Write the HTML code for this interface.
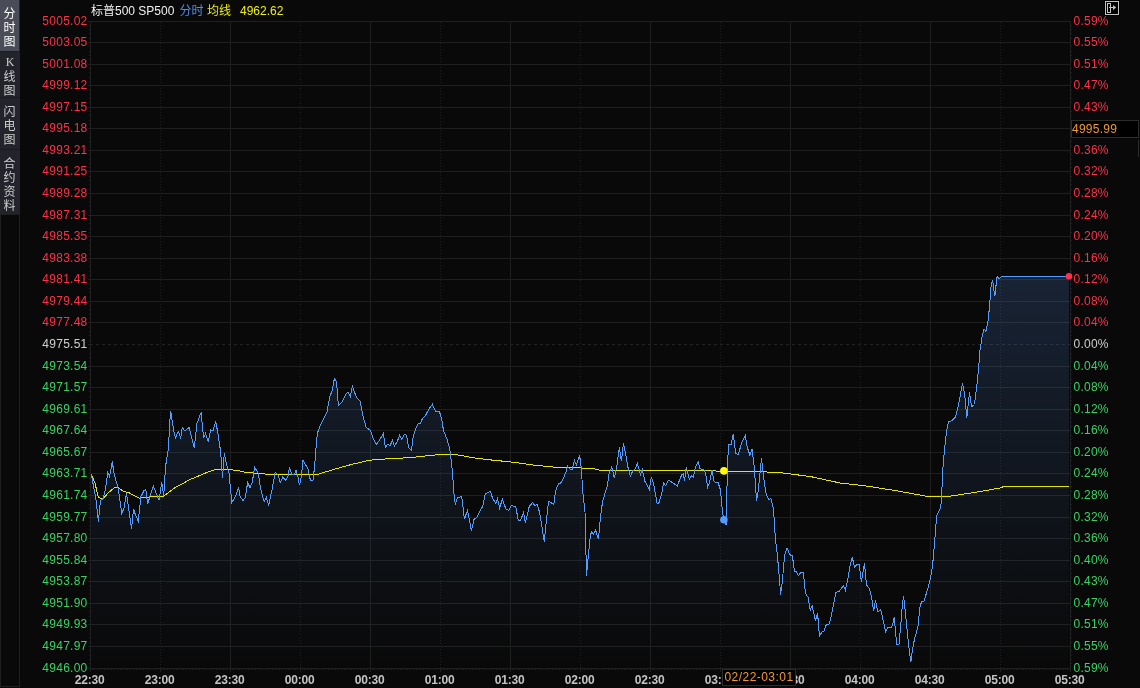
<!DOCTYPE html>
<html><head><meta charset="utf-8"><title>标普500 SP500 分时</title>
<style>
html,body{margin:0;padding:0;background:#090909;width:1140px;height:688px;overflow:hidden;}
svg{display:block;}
.l{font-family:"Liberation Sans", Arial, sans-serif;font-size:12px;letter-spacing:0.25px;}
.t{font-family:"Liberation Sans", Arial, sans-serif;font-size:12px;letter-spacing:-0.2px;font-weight:bold;}
.s{font-family:"Liberation Serif", serif;font-size:12px;}
.c{font-family:"Liberation Sans", "Noto Sans CJK SC", sans-serif;font-size:12px;}
</style></head><body>
<svg width="1140" height="688" viewBox="0 0 1140 688" shape-rendering="crispEdges">
<defs>
<linearGradient id="fillg" gradientUnits="userSpaceOnUse" x1="0" y1="276" x2="0" y2="668">
<stop offset="0" stop-color="rgb(83,138,223)" stop-opacity="0.2"/>
<stop offset="1" stop-color="rgb(83,138,223)" stop-opacity="0"/>
</linearGradient>
</defs>
<rect x="0" y="0" width="1140" height="688" fill="#090909"/>

<rect x="0" y="0" width="20" height="214" fill="#23242b"/>
<rect x="0" y="0" width="19" height="51" fill="#4a4c57"/>
<rect x="0" y="51" width="20" height="1" fill="#1a1b20"/>
<rect x="0" y="97" width="20" height="1" fill="#1a1b20"/>
<rect x="0" y="149" width="20" height="1" fill="#1a1b20"/>
<rect x="0.5" y="214.5" width="19" height="472" fill="none" stroke="#1f1f1f" stroke-width="1"/>
<text class="c" x="9.5" y="18" fill="#ffffff" text-anchor="middle">分</text><text class="c" x="9.5" y="32" fill="#ffffff" text-anchor="middle">时</text><text class="c" x="9.5" y="46" fill="#ffffff" text-anchor="middle">图</text>
<text class="s" x="10" y="66" fill="#cccccc" text-anchor="middle">K</text>
<text class="c" x="9.5" y="81" fill="#cccccc" text-anchor="middle">线</text><text class="c" x="9.5" y="95" fill="#cccccc" text-anchor="middle">图</text>
<text class="c" x="9.5" y="116" fill="#cccccc" text-anchor="middle">闪</text><text class="c" x="9.5" y="130" fill="#cccccc" text-anchor="middle">电</text><text class="c" x="9.5" y="144" fill="#cccccc" text-anchor="middle">图</text>
<text class="c" x="9.5" y="168" fill="#cccccc" text-anchor="middle">合</text><text class="c" x="9.5" y="182" fill="#cccccc" text-anchor="middle">约</text><text class="c" x="9.5" y="196" fill="#cccccc" text-anchor="middle">资</text><text class="c" x="9.5" y="210" fill="#cccccc" text-anchor="middle">料</text>
<rect x="90" y="21" width="981" height="1" fill="#1f1f1f"/>
<rect x="88" y="21" width="2" height="1" fill="#1f1f1f"/>
<rect x="89" y="25" width="1" height="1" fill="#1f1f1f"/>
<rect x="1071" y="25" width="1" height="1" fill="#1f1f1f"/>
<rect x="89" y="29" width="1" height="1" fill="#1f1f1f"/>
<rect x="1071" y="29" width="1" height="1" fill="#1f1f1f"/>
<rect x="89" y="33" width="1" height="1" fill="#1f1f1f"/>
<rect x="1071" y="33" width="1" height="1" fill="#1f1f1f"/>
<rect x="89" y="38" width="1" height="1" fill="#1f1f1f"/>
<rect x="1071" y="38" width="1" height="1" fill="#1f1f1f"/>
<rect x="90" y="42" width="981" height="1" fill="#1f1f1f"/>
<rect x="88" y="42" width="2" height="1" fill="#1f1f1f"/>
<rect x="89" y="46" width="1" height="1" fill="#1f1f1f"/>
<rect x="1071" y="46" width="1" height="1" fill="#1f1f1f"/>
<rect x="89" y="51" width="1" height="1" fill="#1f1f1f"/>
<rect x="1071" y="51" width="1" height="1" fill="#1f1f1f"/>
<rect x="89" y="55" width="1" height="1" fill="#1f1f1f"/>
<rect x="1071" y="55" width="1" height="1" fill="#1f1f1f"/>
<rect x="89" y="59" width="1" height="1" fill="#1f1f1f"/>
<rect x="1071" y="59" width="1" height="1" fill="#1f1f1f"/>
<rect x="90" y="64" width="981" height="1" fill="#1f1f1f"/>
<rect x="88" y="64" width="2" height="1" fill="#1f1f1f"/>
<rect x="89" y="68" width="1" height="1" fill="#1f1f1f"/>
<rect x="1071" y="68" width="1" height="1" fill="#1f1f1f"/>
<rect x="89" y="72" width="1" height="1" fill="#1f1f1f"/>
<rect x="1071" y="72" width="1" height="1" fill="#1f1f1f"/>
<rect x="89" y="77" width="1" height="1" fill="#1f1f1f"/>
<rect x="1071" y="77" width="1" height="1" fill="#1f1f1f"/>
<rect x="89" y="81" width="1" height="1" fill="#1f1f1f"/>
<rect x="1071" y="81" width="1" height="1" fill="#1f1f1f"/>
<rect x="90" y="85" width="981" height="1" fill="#1f1f1f"/>
<rect x="88" y="85" width="2" height="1" fill="#1f1f1f"/>
<rect x="89" y="90" width="1" height="1" fill="#1f1f1f"/>
<rect x="1071" y="90" width="1" height="1" fill="#1f1f1f"/>
<rect x="89" y="94" width="1" height="1" fill="#1f1f1f"/>
<rect x="1071" y="94" width="1" height="1" fill="#1f1f1f"/>
<rect x="89" y="98" width="1" height="1" fill="#1f1f1f"/>
<rect x="1071" y="98" width="1" height="1" fill="#1f1f1f"/>
<rect x="89" y="102" width="1" height="1" fill="#1f1f1f"/>
<rect x="1071" y="102" width="1" height="1" fill="#1f1f1f"/>
<rect x="90" y="107" width="981" height="1" fill="#1f1f1f"/>
<rect x="88" y="107" width="2" height="1" fill="#1f1f1f"/>
<rect x="89" y="111" width="1" height="1" fill="#1f1f1f"/>
<rect x="1071" y="111" width="1" height="1" fill="#1f1f1f"/>
<rect x="89" y="115" width="1" height="1" fill="#1f1f1f"/>
<rect x="1071" y="115" width="1" height="1" fill="#1f1f1f"/>
<rect x="89" y="120" width="1" height="1" fill="#1f1f1f"/>
<rect x="1071" y="120" width="1" height="1" fill="#1f1f1f"/>
<rect x="89" y="124" width="1" height="1" fill="#1f1f1f"/>
<rect x="1071" y="124" width="1" height="1" fill="#1f1f1f"/>
<rect x="90" y="128" width="981" height="1" fill="#1f1f1f"/>
<rect x="88" y="128" width="2" height="1" fill="#1f1f1f"/>
<rect x="89" y="133" width="1" height="1" fill="#1f1f1f"/>
<rect x="1071" y="133" width="1" height="1" fill="#1f1f1f"/>
<rect x="89" y="137" width="1" height="1" fill="#1f1f1f"/>
<rect x="1071" y="137" width="1" height="1" fill="#1f1f1f"/>
<rect x="89" y="141" width="1" height="1" fill="#1f1f1f"/>
<rect x="1071" y="141" width="1" height="1" fill="#1f1f1f"/>
<rect x="89" y="146" width="1" height="1" fill="#1f1f1f"/>
<rect x="1071" y="146" width="1" height="1" fill="#1f1f1f"/>
<rect x="90" y="150" width="981" height="1" fill="#1f1f1f"/>
<rect x="88" y="150" width="2" height="1" fill="#1f1f1f"/>
<rect x="89" y="154" width="1" height="1" fill="#1f1f1f"/>
<rect x="1071" y="154" width="1" height="1" fill="#1f1f1f"/>
<rect x="89" y="159" width="1" height="1" fill="#1f1f1f"/>
<rect x="1071" y="159" width="1" height="1" fill="#1f1f1f"/>
<rect x="89" y="163" width="1" height="1" fill="#1f1f1f"/>
<rect x="1071" y="163" width="1" height="1" fill="#1f1f1f"/>
<rect x="89" y="167" width="1" height="1" fill="#1f1f1f"/>
<rect x="1071" y="167" width="1" height="1" fill="#1f1f1f"/>
<rect x="90" y="171" width="981" height="1" fill="#1f1f1f"/>
<rect x="88" y="171" width="2" height="1" fill="#1f1f1f"/>
<rect x="89" y="176" width="1" height="1" fill="#1f1f1f"/>
<rect x="1071" y="176" width="1" height="1" fill="#1f1f1f"/>
<rect x="89" y="180" width="1" height="1" fill="#1f1f1f"/>
<rect x="1071" y="180" width="1" height="1" fill="#1f1f1f"/>
<rect x="89" y="184" width="1" height="1" fill="#1f1f1f"/>
<rect x="1071" y="184" width="1" height="1" fill="#1f1f1f"/>
<rect x="89" y="189" width="1" height="1" fill="#1f1f1f"/>
<rect x="1071" y="189" width="1" height="1" fill="#1f1f1f"/>
<rect x="90" y="193" width="981" height="1" fill="#1f1f1f"/>
<rect x="88" y="193" width="2" height="1" fill="#1f1f1f"/>
<rect x="89" y="197" width="1" height="1" fill="#1f1f1f"/>
<rect x="1071" y="197" width="1" height="1" fill="#1f1f1f"/>
<rect x="89" y="202" width="1" height="1" fill="#1f1f1f"/>
<rect x="1071" y="202" width="1" height="1" fill="#1f1f1f"/>
<rect x="89" y="206" width="1" height="1" fill="#1f1f1f"/>
<rect x="1071" y="206" width="1" height="1" fill="#1f1f1f"/>
<rect x="89" y="210" width="1" height="1" fill="#1f1f1f"/>
<rect x="1071" y="210" width="1" height="1" fill="#1f1f1f"/>
<rect x="90" y="215" width="981" height="1" fill="#1f1f1f"/>
<rect x="88" y="215" width="2" height="1" fill="#1f1f1f"/>
<rect x="89" y="219" width="1" height="1" fill="#1f1f1f"/>
<rect x="1071" y="219" width="1" height="1" fill="#1f1f1f"/>
<rect x="89" y="223" width="1" height="1" fill="#1f1f1f"/>
<rect x="1071" y="223" width="1" height="1" fill="#1f1f1f"/>
<rect x="89" y="228" width="1" height="1" fill="#1f1f1f"/>
<rect x="1071" y="228" width="1" height="1" fill="#1f1f1f"/>
<rect x="89" y="232" width="1" height="1" fill="#1f1f1f"/>
<rect x="1071" y="232" width="1" height="1" fill="#1f1f1f"/>
<rect x="90" y="236" width="981" height="1" fill="#1f1f1f"/>
<rect x="88" y="236" width="2" height="1" fill="#1f1f1f"/>
<rect x="89" y="240" width="1" height="1" fill="#1f1f1f"/>
<rect x="1071" y="240" width="1" height="1" fill="#1f1f1f"/>
<rect x="89" y="245" width="1" height="1" fill="#1f1f1f"/>
<rect x="1071" y="245" width="1" height="1" fill="#1f1f1f"/>
<rect x="89" y="249" width="1" height="1" fill="#1f1f1f"/>
<rect x="1071" y="249" width="1" height="1" fill="#1f1f1f"/>
<rect x="89" y="253" width="1" height="1" fill="#1f1f1f"/>
<rect x="1071" y="253" width="1" height="1" fill="#1f1f1f"/>
<rect x="90" y="258" width="981" height="1" fill="#1f1f1f"/>
<rect x="88" y="258" width="2" height="1" fill="#1f1f1f"/>
<rect x="89" y="262" width="1" height="1" fill="#1f1f1f"/>
<rect x="1071" y="262" width="1" height="1" fill="#1f1f1f"/>
<rect x="89" y="266" width="1" height="1" fill="#1f1f1f"/>
<rect x="1071" y="266" width="1" height="1" fill="#1f1f1f"/>
<rect x="89" y="271" width="1" height="1" fill="#1f1f1f"/>
<rect x="1071" y="271" width="1" height="1" fill="#1f1f1f"/>
<rect x="89" y="275" width="1" height="1" fill="#1f1f1f"/>
<rect x="1071" y="275" width="1" height="1" fill="#1f1f1f"/>
<rect x="90" y="279" width="981" height="1" fill="#1f1f1f"/>
<rect x="88" y="279" width="2" height="1" fill="#1f1f1f"/>
<rect x="89" y="284" width="1" height="1" fill="#1f1f1f"/>
<rect x="1071" y="284" width="1" height="1" fill="#1f1f1f"/>
<rect x="89" y="288" width="1" height="1" fill="#1f1f1f"/>
<rect x="1071" y="288" width="1" height="1" fill="#1f1f1f"/>
<rect x="89" y="292" width="1" height="1" fill="#1f1f1f"/>
<rect x="1071" y="292" width="1" height="1" fill="#1f1f1f"/>
<rect x="89" y="297" width="1" height="1" fill="#1f1f1f"/>
<rect x="1071" y="297" width="1" height="1" fill="#1f1f1f"/>
<rect x="90" y="301" width="981" height="1" fill="#1f1f1f"/>
<rect x="88" y="301" width="2" height="1" fill="#1f1f1f"/>
<rect x="89" y="305" width="1" height="1" fill="#1f1f1f"/>
<rect x="1071" y="305" width="1" height="1" fill="#1f1f1f"/>
<rect x="89" y="309" width="1" height="1" fill="#1f1f1f"/>
<rect x="1071" y="309" width="1" height="1" fill="#1f1f1f"/>
<rect x="89" y="314" width="1" height="1" fill="#1f1f1f"/>
<rect x="1071" y="314" width="1" height="1" fill="#1f1f1f"/>
<rect x="89" y="318" width="1" height="1" fill="#1f1f1f"/>
<rect x="1071" y="318" width="1" height="1" fill="#1f1f1f"/>
<rect x="90" y="322" width="981" height="1" fill="#1f1f1f"/>
<rect x="88" y="322" width="2" height="1" fill="#1f1f1f"/>
<rect x="89" y="327" width="1" height="1" fill="#1f1f1f"/>
<rect x="1071" y="327" width="1" height="1" fill="#1f1f1f"/>
<rect x="89" y="331" width="1" height="1" fill="#1f1f1f"/>
<rect x="1071" y="331" width="1" height="1" fill="#1f1f1f"/>
<rect x="89" y="335" width="1" height="1" fill="#1f1f1f"/>
<rect x="1071" y="335" width="1" height="1" fill="#1f1f1f"/>
<rect x="89" y="340" width="1" height="1" fill="#1f1f1f"/>
<rect x="1071" y="340" width="1" height="1" fill="#1f1f1f"/>
<line x1="90" y1="344.5" x2="1070" y2="344.5" stroke="#232323" stroke-width="1" stroke-dasharray="3 3"/>
<rect x="88" y="344" width="2" height="1" fill="#1f1f1f"/>
<rect x="89" y="348" width="1" height="1" fill="#1f1f1f"/>
<rect x="1071" y="348" width="1" height="1" fill="#1f1f1f"/>
<rect x="89" y="353" width="1" height="1" fill="#1f1f1f"/>
<rect x="1071" y="353" width="1" height="1" fill="#1f1f1f"/>
<rect x="89" y="357" width="1" height="1" fill="#1f1f1f"/>
<rect x="1071" y="357" width="1" height="1" fill="#1f1f1f"/>
<rect x="89" y="361" width="1" height="1" fill="#1f1f1f"/>
<rect x="1071" y="361" width="1" height="1" fill="#1f1f1f"/>
<rect x="90" y="366" width="981" height="1" fill="#1f1f1f"/>
<rect x="88" y="366" width="2" height="1" fill="#1f1f1f"/>
<rect x="89" y="370" width="1" height="1" fill="#1f1f1f"/>
<rect x="1071" y="370" width="1" height="1" fill="#1f1f1f"/>
<rect x="89" y="374" width="1" height="1" fill="#1f1f1f"/>
<rect x="1071" y="374" width="1" height="1" fill="#1f1f1f"/>
<rect x="89" y="379" width="1" height="1" fill="#1f1f1f"/>
<rect x="1071" y="379" width="1" height="1" fill="#1f1f1f"/>
<rect x="89" y="383" width="1" height="1" fill="#1f1f1f"/>
<rect x="1071" y="383" width="1" height="1" fill="#1f1f1f"/>
<rect x="90" y="387" width="981" height="1" fill="#1f1f1f"/>
<rect x="88" y="387" width="2" height="1" fill="#1f1f1f"/>
<rect x="89" y="391" width="1" height="1" fill="#1f1f1f"/>
<rect x="1071" y="391" width="1" height="1" fill="#1f1f1f"/>
<rect x="89" y="396" width="1" height="1" fill="#1f1f1f"/>
<rect x="1071" y="396" width="1" height="1" fill="#1f1f1f"/>
<rect x="89" y="400" width="1" height="1" fill="#1f1f1f"/>
<rect x="1071" y="400" width="1" height="1" fill="#1f1f1f"/>
<rect x="89" y="404" width="1" height="1" fill="#1f1f1f"/>
<rect x="1071" y="404" width="1" height="1" fill="#1f1f1f"/>
<rect x="90" y="409" width="981" height="1" fill="#1f1f1f"/>
<rect x="88" y="409" width="2" height="1" fill="#1f1f1f"/>
<rect x="89" y="413" width="1" height="1" fill="#1f1f1f"/>
<rect x="1071" y="413" width="1" height="1" fill="#1f1f1f"/>
<rect x="89" y="417" width="1" height="1" fill="#1f1f1f"/>
<rect x="1071" y="417" width="1" height="1" fill="#1f1f1f"/>
<rect x="89" y="422" width="1" height="1" fill="#1f1f1f"/>
<rect x="1071" y="422" width="1" height="1" fill="#1f1f1f"/>
<rect x="89" y="426" width="1" height="1" fill="#1f1f1f"/>
<rect x="1071" y="426" width="1" height="1" fill="#1f1f1f"/>
<rect x="90" y="430" width="981" height="1" fill="#1f1f1f"/>
<rect x="88" y="430" width="2" height="1" fill="#1f1f1f"/>
<rect x="89" y="435" width="1" height="1" fill="#1f1f1f"/>
<rect x="1071" y="435" width="1" height="1" fill="#1f1f1f"/>
<rect x="89" y="439" width="1" height="1" fill="#1f1f1f"/>
<rect x="1071" y="439" width="1" height="1" fill="#1f1f1f"/>
<rect x="89" y="443" width="1" height="1" fill="#1f1f1f"/>
<rect x="1071" y="443" width="1" height="1" fill="#1f1f1f"/>
<rect x="89" y="448" width="1" height="1" fill="#1f1f1f"/>
<rect x="1071" y="448" width="1" height="1" fill="#1f1f1f"/>
<rect x="90" y="452" width="981" height="1" fill="#1f1f1f"/>
<rect x="88" y="452" width="2" height="1" fill="#1f1f1f"/>
<rect x="89" y="456" width="1" height="1" fill="#1f1f1f"/>
<rect x="1071" y="456" width="1" height="1" fill="#1f1f1f"/>
<rect x="89" y="460" width="1" height="1" fill="#1f1f1f"/>
<rect x="1071" y="460" width="1" height="1" fill="#1f1f1f"/>
<rect x="89" y="465" width="1" height="1" fill="#1f1f1f"/>
<rect x="1071" y="465" width="1" height="1" fill="#1f1f1f"/>
<rect x="89" y="469" width="1" height="1" fill="#1f1f1f"/>
<rect x="1071" y="469" width="1" height="1" fill="#1f1f1f"/>
<rect x="90" y="473" width="981" height="1" fill="#1f1f1f"/>
<rect x="88" y="473" width="2" height="1" fill="#1f1f1f"/>
<rect x="89" y="478" width="1" height="1" fill="#1f1f1f"/>
<rect x="1071" y="478" width="1" height="1" fill="#1f1f1f"/>
<rect x="89" y="482" width="1" height="1" fill="#1f1f1f"/>
<rect x="1071" y="482" width="1" height="1" fill="#1f1f1f"/>
<rect x="89" y="486" width="1" height="1" fill="#1f1f1f"/>
<rect x="1071" y="486" width="1" height="1" fill="#1f1f1f"/>
<rect x="89" y="491" width="1" height="1" fill="#1f1f1f"/>
<rect x="1071" y="491" width="1" height="1" fill="#1f1f1f"/>
<rect x="90" y="495" width="981" height="1" fill="#1f1f1f"/>
<rect x="88" y="495" width="2" height="1" fill="#1f1f1f"/>
<rect x="89" y="499" width="1" height="1" fill="#1f1f1f"/>
<rect x="1071" y="499" width="1" height="1" fill="#1f1f1f"/>
<rect x="89" y="504" width="1" height="1" fill="#1f1f1f"/>
<rect x="1071" y="504" width="1" height="1" fill="#1f1f1f"/>
<rect x="89" y="508" width="1" height="1" fill="#1f1f1f"/>
<rect x="1071" y="508" width="1" height="1" fill="#1f1f1f"/>
<rect x="89" y="512" width="1" height="1" fill="#1f1f1f"/>
<rect x="1071" y="512" width="1" height="1" fill="#1f1f1f"/>
<rect x="90" y="517" width="981" height="1" fill="#1f1f1f"/>
<rect x="88" y="517" width="2" height="1" fill="#1f1f1f"/>
<rect x="89" y="521" width="1" height="1" fill="#1f1f1f"/>
<rect x="1071" y="521" width="1" height="1" fill="#1f1f1f"/>
<rect x="89" y="525" width="1" height="1" fill="#1f1f1f"/>
<rect x="1071" y="525" width="1" height="1" fill="#1f1f1f"/>
<rect x="89" y="529" width="1" height="1" fill="#1f1f1f"/>
<rect x="1071" y="529" width="1" height="1" fill="#1f1f1f"/>
<rect x="89" y="534" width="1" height="1" fill="#1f1f1f"/>
<rect x="1071" y="534" width="1" height="1" fill="#1f1f1f"/>
<rect x="90" y="538" width="981" height="1" fill="#1f1f1f"/>
<rect x="88" y="538" width="2" height="1" fill="#1f1f1f"/>
<rect x="89" y="542" width="1" height="1" fill="#1f1f1f"/>
<rect x="1071" y="542" width="1" height="1" fill="#1f1f1f"/>
<rect x="89" y="547" width="1" height="1" fill="#1f1f1f"/>
<rect x="1071" y="547" width="1" height="1" fill="#1f1f1f"/>
<rect x="89" y="551" width="1" height="1" fill="#1f1f1f"/>
<rect x="1071" y="551" width="1" height="1" fill="#1f1f1f"/>
<rect x="89" y="555" width="1" height="1" fill="#1f1f1f"/>
<rect x="1071" y="555" width="1" height="1" fill="#1f1f1f"/>
<rect x="90" y="560" width="981" height="1" fill="#1f1f1f"/>
<rect x="88" y="560" width="2" height="1" fill="#1f1f1f"/>
<rect x="89" y="564" width="1" height="1" fill="#1f1f1f"/>
<rect x="1071" y="564" width="1" height="1" fill="#1f1f1f"/>
<rect x="89" y="568" width="1" height="1" fill="#1f1f1f"/>
<rect x="1071" y="568" width="1" height="1" fill="#1f1f1f"/>
<rect x="89" y="573" width="1" height="1" fill="#1f1f1f"/>
<rect x="1071" y="573" width="1" height="1" fill="#1f1f1f"/>
<rect x="89" y="577" width="1" height="1" fill="#1f1f1f"/>
<rect x="1071" y="577" width="1" height="1" fill="#1f1f1f"/>
<rect x="90" y="581" width="981" height="1" fill="#1f1f1f"/>
<rect x="88" y="581" width="2" height="1" fill="#1f1f1f"/>
<rect x="89" y="586" width="1" height="1" fill="#1f1f1f"/>
<rect x="1071" y="586" width="1" height="1" fill="#1f1f1f"/>
<rect x="89" y="590" width="1" height="1" fill="#1f1f1f"/>
<rect x="1071" y="590" width="1" height="1" fill="#1f1f1f"/>
<rect x="89" y="594" width="1" height="1" fill="#1f1f1f"/>
<rect x="1071" y="594" width="1" height="1" fill="#1f1f1f"/>
<rect x="89" y="598" width="1" height="1" fill="#1f1f1f"/>
<rect x="1071" y="598" width="1" height="1" fill="#1f1f1f"/>
<rect x="90" y="603" width="981" height="1" fill="#1f1f1f"/>
<rect x="88" y="603" width="2" height="1" fill="#1f1f1f"/>
<rect x="89" y="607" width="1" height="1" fill="#1f1f1f"/>
<rect x="1071" y="607" width="1" height="1" fill="#1f1f1f"/>
<rect x="89" y="611" width="1" height="1" fill="#1f1f1f"/>
<rect x="1071" y="611" width="1" height="1" fill="#1f1f1f"/>
<rect x="89" y="616" width="1" height="1" fill="#1f1f1f"/>
<rect x="1071" y="616" width="1" height="1" fill="#1f1f1f"/>
<rect x="89" y="620" width="1" height="1" fill="#1f1f1f"/>
<rect x="1071" y="620" width="1" height="1" fill="#1f1f1f"/>
<rect x="90" y="624" width="981" height="1" fill="#1f1f1f"/>
<rect x="88" y="624" width="2" height="1" fill="#1f1f1f"/>
<rect x="89" y="629" width="1" height="1" fill="#1f1f1f"/>
<rect x="1071" y="629" width="1" height="1" fill="#1f1f1f"/>
<rect x="89" y="633" width="1" height="1" fill="#1f1f1f"/>
<rect x="1071" y="633" width="1" height="1" fill="#1f1f1f"/>
<rect x="89" y="637" width="1" height="1" fill="#1f1f1f"/>
<rect x="1071" y="637" width="1" height="1" fill="#1f1f1f"/>
<rect x="89" y="642" width="1" height="1" fill="#1f1f1f"/>
<rect x="1071" y="642" width="1" height="1" fill="#1f1f1f"/>
<rect x="90" y="646" width="981" height="1" fill="#1f1f1f"/>
<rect x="88" y="646" width="2" height="1" fill="#1f1f1f"/>
<rect x="89" y="650" width="1" height="1" fill="#1f1f1f"/>
<rect x="1071" y="650" width="1" height="1" fill="#1f1f1f"/>
<rect x="89" y="655" width="1" height="1" fill="#1f1f1f"/>
<rect x="1071" y="655" width="1" height="1" fill="#1f1f1f"/>
<rect x="89" y="659" width="1" height="1" fill="#1f1f1f"/>
<rect x="1071" y="659" width="1" height="1" fill="#1f1f1f"/>
<rect x="89" y="663" width="1" height="1" fill="#1f1f1f"/>
<rect x="1071" y="663" width="1" height="1" fill="#1f1f1f"/>
<rect x="90" y="668" width="981" height="1" fill="#1f1f1f"/>
<rect x="88" y="668" width="2" height="1" fill="#1f1f1f"/>
<rect x="90" y="21" width="1" height="648" fill="#1f1f1f"/>
<rect x="90" y="669" width="1" height="3" fill="#1f1f1f"/>
<rect x="92" y="669" width="1" height="1" fill="#222"/>
<rect x="94" y="669" width="1" height="1" fill="#222"/>
<rect x="97" y="669" width="1" height="1" fill="#222"/>
<rect x="99" y="669" width="1" height="1" fill="#222"/>
<rect x="101" y="669" width="1" height="1" fill="#222"/>
<rect x="104" y="669" width="1" height="1" fill="#222"/>
<rect x="106" y="669" width="1" height="1" fill="#222"/>
<rect x="108" y="669" width="1" height="1" fill="#222"/>
<rect x="111" y="669" width="1" height="1" fill="#222"/>
<rect x="113" y="669" width="1" height="1" fill="#222"/>
<rect x="115" y="669" width="1" height="1" fill="#222"/>
<rect x="118" y="669" width="1" height="1" fill="#222"/>
<rect x="120" y="669" width="1" height="1" fill="#222"/>
<rect x="122" y="669" width="1" height="1" fill="#222"/>
<rect x="125" y="669" width="1" height="1" fill="#222"/>
<rect x="127" y="669" width="1" height="1" fill="#222"/>
<rect x="129" y="669" width="1" height="1" fill="#222"/>
<rect x="132" y="669" width="1" height="1" fill="#222"/>
<rect x="134" y="669" width="1" height="1" fill="#222"/>
<rect x="136" y="669" width="1" height="1" fill="#222"/>
<rect x="139" y="669" width="1" height="1" fill="#222"/>
<rect x="141" y="669" width="1" height="1" fill="#222"/>
<rect x="143" y="669" width="1" height="1" fill="#222"/>
<rect x="146" y="669" width="1" height="1" fill="#222"/>
<rect x="148" y="669" width="1" height="1" fill="#222"/>
<rect x="150" y="669" width="1" height="1" fill="#222"/>
<rect x="153" y="669" width="1" height="1" fill="#222"/>
<rect x="155" y="669" width="1" height="1" fill="#222"/>
<rect x="157" y="669" width="1" height="1" fill="#222"/>
<line x1="160.5" y1="22" x2="160.5" y2="668" stroke="#1f1f1f" stroke-width="1" stroke-dasharray="1 2"/>
<rect x="160" y="669" width="1" height="3" fill="#1f1f1f"/>
<rect x="162" y="669" width="1" height="1" fill="#222"/>
<rect x="164" y="669" width="1" height="1" fill="#222"/>
<rect x="167" y="669" width="1" height="1" fill="#222"/>
<rect x="169" y="669" width="1" height="1" fill="#222"/>
<rect x="171" y="669" width="1" height="1" fill="#222"/>
<rect x="174" y="669" width="1" height="1" fill="#222"/>
<rect x="176" y="669" width="1" height="1" fill="#222"/>
<rect x="178" y="669" width="1" height="1" fill="#222"/>
<rect x="181" y="669" width="1" height="1" fill="#222"/>
<rect x="183" y="669" width="1" height="1" fill="#222"/>
<rect x="185" y="669" width="1" height="1" fill="#222"/>
<rect x="188" y="669" width="1" height="1" fill="#222"/>
<rect x="190" y="669" width="1" height="1" fill="#222"/>
<rect x="192" y="669" width="1" height="1" fill="#222"/>
<rect x="195" y="669" width="1" height="1" fill="#222"/>
<rect x="197" y="669" width="1" height="1" fill="#222"/>
<rect x="199" y="669" width="1" height="1" fill="#222"/>
<rect x="202" y="669" width="1" height="1" fill="#222"/>
<rect x="204" y="669" width="1" height="1" fill="#222"/>
<rect x="206" y="669" width="1" height="1" fill="#222"/>
<rect x="209" y="669" width="1" height="1" fill="#222"/>
<rect x="211" y="669" width="1" height="1" fill="#222"/>
<rect x="213" y="669" width="1" height="1" fill="#222"/>
<rect x="216" y="669" width="1" height="1" fill="#222"/>
<rect x="218" y="669" width="1" height="1" fill="#222"/>
<rect x="220" y="669" width="1" height="1" fill="#222"/>
<rect x="223" y="669" width="1" height="1" fill="#222"/>
<rect x="225" y="669" width="1" height="1" fill="#222"/>
<rect x="227" y="669" width="1" height="1" fill="#222"/>
<rect x="230" y="21" width="1" height="648" fill="#1f1f1f"/>
<rect x="230" y="669" width="1" height="3" fill="#1f1f1f"/>
<rect x="232" y="669" width="1" height="1" fill="#222"/>
<rect x="234" y="669" width="1" height="1" fill="#222"/>
<rect x="237" y="669" width="1" height="1" fill="#222"/>
<rect x="239" y="669" width="1" height="1" fill="#222"/>
<rect x="241" y="669" width="1" height="1" fill="#222"/>
<rect x="244" y="669" width="1" height="1" fill="#222"/>
<rect x="246" y="669" width="1" height="1" fill="#222"/>
<rect x="248" y="669" width="1" height="1" fill="#222"/>
<rect x="251" y="669" width="1" height="1" fill="#222"/>
<rect x="253" y="669" width="1" height="1" fill="#222"/>
<rect x="255" y="669" width="1" height="1" fill="#222"/>
<rect x="258" y="669" width="1" height="1" fill="#222"/>
<rect x="260" y="669" width="1" height="1" fill="#222"/>
<rect x="262" y="669" width="1" height="1" fill="#222"/>
<rect x="265" y="669" width="1" height="1" fill="#222"/>
<rect x="267" y="669" width="1" height="1" fill="#222"/>
<rect x="269" y="669" width="1" height="1" fill="#222"/>
<rect x="272" y="669" width="1" height="1" fill="#222"/>
<rect x="274" y="669" width="1" height="1" fill="#222"/>
<rect x="276" y="669" width="1" height="1" fill="#222"/>
<rect x="279" y="669" width="1" height="1" fill="#222"/>
<rect x="281" y="669" width="1" height="1" fill="#222"/>
<rect x="283" y="669" width="1" height="1" fill="#222"/>
<rect x="286" y="669" width="1" height="1" fill="#222"/>
<rect x="288" y="669" width="1" height="1" fill="#222"/>
<rect x="290" y="669" width="1" height="1" fill="#222"/>
<rect x="293" y="669" width="1" height="1" fill="#222"/>
<rect x="295" y="669" width="1" height="1" fill="#222"/>
<rect x="297" y="669" width="1" height="1" fill="#222"/>
<line x1="300.5" y1="22" x2="300.5" y2="668" stroke="#1f1f1f" stroke-width="1" stroke-dasharray="1 2"/>
<rect x="300" y="669" width="1" height="3" fill="#1f1f1f"/>
<rect x="302" y="669" width="1" height="1" fill="#222"/>
<rect x="304" y="669" width="1" height="1" fill="#222"/>
<rect x="307" y="669" width="1" height="1" fill="#222"/>
<rect x="309" y="669" width="1" height="1" fill="#222"/>
<rect x="311" y="669" width="1" height="1" fill="#222"/>
<rect x="314" y="669" width="1" height="1" fill="#222"/>
<rect x="316" y="669" width="1" height="1" fill="#222"/>
<rect x="318" y="669" width="1" height="1" fill="#222"/>
<rect x="321" y="669" width="1" height="1" fill="#222"/>
<rect x="323" y="669" width="1" height="1" fill="#222"/>
<rect x="325" y="669" width="1" height="1" fill="#222"/>
<rect x="328" y="669" width="1" height="1" fill="#222"/>
<rect x="330" y="669" width="1" height="1" fill="#222"/>
<rect x="332" y="669" width="1" height="1" fill="#222"/>
<rect x="335" y="669" width="1" height="1" fill="#222"/>
<rect x="337" y="669" width="1" height="1" fill="#222"/>
<rect x="339" y="669" width="1" height="1" fill="#222"/>
<rect x="342" y="669" width="1" height="1" fill="#222"/>
<rect x="344" y="669" width="1" height="1" fill="#222"/>
<rect x="346" y="669" width="1" height="1" fill="#222"/>
<rect x="349" y="669" width="1" height="1" fill="#222"/>
<rect x="351" y="669" width="1" height="1" fill="#222"/>
<rect x="353" y="669" width="1" height="1" fill="#222"/>
<rect x="356" y="669" width="1" height="1" fill="#222"/>
<rect x="358" y="669" width="1" height="1" fill="#222"/>
<rect x="360" y="669" width="1" height="1" fill="#222"/>
<rect x="363" y="669" width="1" height="1" fill="#222"/>
<rect x="365" y="669" width="1" height="1" fill="#222"/>
<rect x="367" y="669" width="1" height="1" fill="#222"/>
<rect x="370" y="21" width="1" height="648" fill="#1f1f1f"/>
<rect x="370" y="669" width="1" height="3" fill="#1f1f1f"/>
<rect x="372" y="669" width="1" height="1" fill="#222"/>
<rect x="374" y="669" width="1" height="1" fill="#222"/>
<rect x="377" y="669" width="1" height="1" fill="#222"/>
<rect x="379" y="669" width="1" height="1" fill="#222"/>
<rect x="381" y="669" width="1" height="1" fill="#222"/>
<rect x="384" y="669" width="1" height="1" fill="#222"/>
<rect x="386" y="669" width="1" height="1" fill="#222"/>
<rect x="388" y="669" width="1" height="1" fill="#222"/>
<rect x="391" y="669" width="1" height="1" fill="#222"/>
<rect x="393" y="669" width="1" height="1" fill="#222"/>
<rect x="395" y="669" width="1" height="1" fill="#222"/>
<rect x="398" y="669" width="1" height="1" fill="#222"/>
<rect x="400" y="669" width="1" height="1" fill="#222"/>
<rect x="402" y="669" width="1" height="1" fill="#222"/>
<rect x="405" y="669" width="1" height="1" fill="#222"/>
<rect x="407" y="669" width="1" height="1" fill="#222"/>
<rect x="409" y="669" width="1" height="1" fill="#222"/>
<rect x="412" y="669" width="1" height="1" fill="#222"/>
<rect x="414" y="669" width="1" height="1" fill="#222"/>
<rect x="416" y="669" width="1" height="1" fill="#222"/>
<rect x="419" y="669" width="1" height="1" fill="#222"/>
<rect x="421" y="669" width="1" height="1" fill="#222"/>
<rect x="423" y="669" width="1" height="1" fill="#222"/>
<rect x="426" y="669" width="1" height="1" fill="#222"/>
<rect x="428" y="669" width="1" height="1" fill="#222"/>
<rect x="430" y="669" width="1" height="1" fill="#222"/>
<rect x="433" y="669" width="1" height="1" fill="#222"/>
<rect x="435" y="669" width="1" height="1" fill="#222"/>
<rect x="437" y="669" width="1" height="1" fill="#222"/>
<line x1="440.5" y1="22" x2="440.5" y2="668" stroke="#1f1f1f" stroke-width="1" stroke-dasharray="1 2"/>
<rect x="440" y="669" width="1" height="3" fill="#1f1f1f"/>
<rect x="442" y="669" width="1" height="1" fill="#222"/>
<rect x="444" y="669" width="1" height="1" fill="#222"/>
<rect x="447" y="669" width="1" height="1" fill="#222"/>
<rect x="449" y="669" width="1" height="1" fill="#222"/>
<rect x="451" y="669" width="1" height="1" fill="#222"/>
<rect x="454" y="669" width="1" height="1" fill="#222"/>
<rect x="456" y="669" width="1" height="1" fill="#222"/>
<rect x="458" y="669" width="1" height="1" fill="#222"/>
<rect x="461" y="669" width="1" height="1" fill="#222"/>
<rect x="463" y="669" width="1" height="1" fill="#222"/>
<rect x="465" y="669" width="1" height="1" fill="#222"/>
<rect x="468" y="669" width="1" height="1" fill="#222"/>
<rect x="470" y="669" width="1" height="1" fill="#222"/>
<rect x="472" y="669" width="1" height="1" fill="#222"/>
<rect x="475" y="669" width="1" height="1" fill="#222"/>
<rect x="477" y="669" width="1" height="1" fill="#222"/>
<rect x="479" y="669" width="1" height="1" fill="#222"/>
<rect x="482" y="669" width="1" height="1" fill="#222"/>
<rect x="484" y="669" width="1" height="1" fill="#222"/>
<rect x="486" y="669" width="1" height="1" fill="#222"/>
<rect x="489" y="669" width="1" height="1" fill="#222"/>
<rect x="491" y="669" width="1" height="1" fill="#222"/>
<rect x="493" y="669" width="1" height="1" fill="#222"/>
<rect x="496" y="669" width="1" height="1" fill="#222"/>
<rect x="498" y="669" width="1" height="1" fill="#222"/>
<rect x="500" y="669" width="1" height="1" fill="#222"/>
<rect x="503" y="669" width="1" height="1" fill="#222"/>
<rect x="505" y="669" width="1" height="1" fill="#222"/>
<rect x="507" y="669" width="1" height="1" fill="#222"/>
<rect x="510" y="21" width="1" height="648" fill="#1f1f1f"/>
<rect x="510" y="669" width="1" height="3" fill="#1f1f1f"/>
<rect x="512" y="669" width="1" height="1" fill="#222"/>
<rect x="514" y="669" width="1" height="1" fill="#222"/>
<rect x="517" y="669" width="1" height="1" fill="#222"/>
<rect x="519" y="669" width="1" height="1" fill="#222"/>
<rect x="521" y="669" width="1" height="1" fill="#222"/>
<rect x="524" y="669" width="1" height="1" fill="#222"/>
<rect x="526" y="669" width="1" height="1" fill="#222"/>
<rect x="528" y="669" width="1" height="1" fill="#222"/>
<rect x="531" y="669" width="1" height="1" fill="#222"/>
<rect x="533" y="669" width="1" height="1" fill="#222"/>
<rect x="535" y="669" width="1" height="1" fill="#222"/>
<rect x="538" y="669" width="1" height="1" fill="#222"/>
<rect x="540" y="669" width="1" height="1" fill="#222"/>
<rect x="542" y="669" width="1" height="1" fill="#222"/>
<rect x="545" y="669" width="1" height="1" fill="#222"/>
<rect x="547" y="669" width="1" height="1" fill="#222"/>
<rect x="549" y="669" width="1" height="1" fill="#222"/>
<rect x="552" y="669" width="1" height="1" fill="#222"/>
<rect x="554" y="669" width="1" height="1" fill="#222"/>
<rect x="556" y="669" width="1" height="1" fill="#222"/>
<rect x="559" y="669" width="1" height="1" fill="#222"/>
<rect x="561" y="669" width="1" height="1" fill="#222"/>
<rect x="563" y="669" width="1" height="1" fill="#222"/>
<rect x="566" y="669" width="1" height="1" fill="#222"/>
<rect x="568" y="669" width="1" height="1" fill="#222"/>
<rect x="570" y="669" width="1" height="1" fill="#222"/>
<rect x="573" y="669" width="1" height="1" fill="#222"/>
<rect x="575" y="669" width="1" height="1" fill="#222"/>
<rect x="577" y="669" width="1" height="1" fill="#222"/>
<line x1="580.5" y1="22" x2="580.5" y2="668" stroke="#1f1f1f" stroke-width="1" stroke-dasharray="1 2"/>
<rect x="580" y="669" width="1" height="3" fill="#1f1f1f"/>
<rect x="582" y="669" width="1" height="1" fill="#222"/>
<rect x="584" y="669" width="1" height="1" fill="#222"/>
<rect x="587" y="669" width="1" height="1" fill="#222"/>
<rect x="589" y="669" width="1" height="1" fill="#222"/>
<rect x="591" y="669" width="1" height="1" fill="#222"/>
<rect x="594" y="669" width="1" height="1" fill="#222"/>
<rect x="596" y="669" width="1" height="1" fill="#222"/>
<rect x="598" y="669" width="1" height="1" fill="#222"/>
<rect x="601" y="669" width="1" height="1" fill="#222"/>
<rect x="603" y="669" width="1" height="1" fill="#222"/>
<rect x="605" y="669" width="1" height="1" fill="#222"/>
<rect x="608" y="669" width="1" height="1" fill="#222"/>
<rect x="610" y="669" width="1" height="1" fill="#222"/>
<rect x="612" y="669" width="1" height="1" fill="#222"/>
<rect x="615" y="669" width="1" height="1" fill="#222"/>
<rect x="617" y="669" width="1" height="1" fill="#222"/>
<rect x="619" y="669" width="1" height="1" fill="#222"/>
<rect x="622" y="669" width="1" height="1" fill="#222"/>
<rect x="624" y="669" width="1" height="1" fill="#222"/>
<rect x="626" y="669" width="1" height="1" fill="#222"/>
<rect x="629" y="669" width="1" height="1" fill="#222"/>
<rect x="631" y="669" width="1" height="1" fill="#222"/>
<rect x="633" y="669" width="1" height="1" fill="#222"/>
<rect x="636" y="669" width="1" height="1" fill="#222"/>
<rect x="638" y="669" width="1" height="1" fill="#222"/>
<rect x="640" y="669" width="1" height="1" fill="#222"/>
<rect x="643" y="669" width="1" height="1" fill="#222"/>
<rect x="645" y="669" width="1" height="1" fill="#222"/>
<rect x="647" y="669" width="1" height="1" fill="#222"/>
<rect x="650" y="21" width="1" height="648" fill="#1f1f1f"/>
<rect x="650" y="669" width="1" height="3" fill="#1f1f1f"/>
<rect x="652" y="669" width="1" height="1" fill="#222"/>
<rect x="654" y="669" width="1" height="1" fill="#222"/>
<rect x="657" y="669" width="1" height="1" fill="#222"/>
<rect x="659" y="669" width="1" height="1" fill="#222"/>
<rect x="661" y="669" width="1" height="1" fill="#222"/>
<rect x="664" y="669" width="1" height="1" fill="#222"/>
<rect x="666" y="669" width="1" height="1" fill="#222"/>
<rect x="668" y="669" width="1" height="1" fill="#222"/>
<rect x="671" y="669" width="1" height="1" fill="#222"/>
<rect x="673" y="669" width="1" height="1" fill="#222"/>
<rect x="675" y="669" width="1" height="1" fill="#222"/>
<rect x="678" y="669" width="1" height="1" fill="#222"/>
<rect x="680" y="669" width="1" height="1" fill="#222"/>
<rect x="682" y="669" width="1" height="1" fill="#222"/>
<rect x="685" y="669" width="1" height="1" fill="#222"/>
<rect x="687" y="669" width="1" height="1" fill="#222"/>
<rect x="689" y="669" width="1" height="1" fill="#222"/>
<rect x="692" y="669" width="1" height="1" fill="#222"/>
<rect x="694" y="669" width="1" height="1" fill="#222"/>
<rect x="696" y="669" width="1" height="1" fill="#222"/>
<rect x="699" y="669" width="1" height="1" fill="#222"/>
<rect x="701" y="669" width="1" height="1" fill="#222"/>
<rect x="703" y="669" width="1" height="1" fill="#222"/>
<rect x="706" y="669" width="1" height="1" fill="#222"/>
<rect x="708" y="669" width="1" height="1" fill="#222"/>
<rect x="710" y="669" width="1" height="1" fill="#222"/>
<rect x="713" y="669" width="1" height="1" fill="#222"/>
<rect x="715" y="669" width="1" height="1" fill="#222"/>
<rect x="717" y="669" width="1" height="1" fill="#222"/>
<line x1="720.5" y1="22" x2="720.5" y2="668" stroke="#1f1f1f" stroke-width="1" stroke-dasharray="1 2"/>
<rect x="720" y="669" width="1" height="3" fill="#1f1f1f"/>
<rect x="722" y="669" width="1" height="1" fill="#222"/>
<rect x="724" y="669" width="1" height="1" fill="#222"/>
<rect x="727" y="669" width="1" height="1" fill="#222"/>
<rect x="729" y="669" width="1" height="1" fill="#222"/>
<rect x="731" y="669" width="1" height="1" fill="#222"/>
<rect x="734" y="669" width="1" height="1" fill="#222"/>
<rect x="736" y="669" width="1" height="1" fill="#222"/>
<rect x="738" y="669" width="1" height="1" fill="#222"/>
<rect x="741" y="669" width="1" height="1" fill="#222"/>
<rect x="743" y="669" width="1" height="1" fill="#222"/>
<rect x="745" y="669" width="1" height="1" fill="#222"/>
<rect x="748" y="669" width="1" height="1" fill="#222"/>
<rect x="750" y="669" width="1" height="1" fill="#222"/>
<rect x="752" y="669" width="1" height="1" fill="#222"/>
<rect x="755" y="669" width="1" height="1" fill="#222"/>
<rect x="757" y="669" width="1" height="1" fill="#222"/>
<rect x="759" y="669" width="1" height="1" fill="#222"/>
<rect x="762" y="669" width="1" height="1" fill="#222"/>
<rect x="764" y="669" width="1" height="1" fill="#222"/>
<rect x="766" y="669" width="1" height="1" fill="#222"/>
<rect x="769" y="669" width="1" height="1" fill="#222"/>
<rect x="771" y="669" width="1" height="1" fill="#222"/>
<rect x="773" y="669" width="1" height="1" fill="#222"/>
<rect x="776" y="669" width="1" height="1" fill="#222"/>
<rect x="778" y="669" width="1" height="1" fill="#222"/>
<rect x="780" y="669" width="1" height="1" fill="#222"/>
<rect x="783" y="669" width="1" height="1" fill="#222"/>
<rect x="785" y="669" width="1" height="1" fill="#222"/>
<rect x="787" y="669" width="1" height="1" fill="#222"/>
<rect x="790" y="21" width="1" height="648" fill="#1f1f1f"/>
<rect x="790" y="669" width="1" height="3" fill="#1f1f1f"/>
<rect x="792" y="669" width="1" height="1" fill="#222"/>
<rect x="794" y="669" width="1" height="1" fill="#222"/>
<rect x="797" y="669" width="1" height="1" fill="#222"/>
<rect x="799" y="669" width="1" height="1" fill="#222"/>
<rect x="801" y="669" width="1" height="1" fill="#222"/>
<rect x="804" y="669" width="1" height="1" fill="#222"/>
<rect x="806" y="669" width="1" height="1" fill="#222"/>
<rect x="808" y="669" width="1" height="1" fill="#222"/>
<rect x="811" y="669" width="1" height="1" fill="#222"/>
<rect x="813" y="669" width="1" height="1" fill="#222"/>
<rect x="815" y="669" width="1" height="1" fill="#222"/>
<rect x="818" y="669" width="1" height="1" fill="#222"/>
<rect x="820" y="669" width="1" height="1" fill="#222"/>
<rect x="822" y="669" width="1" height="1" fill="#222"/>
<rect x="825" y="669" width="1" height="1" fill="#222"/>
<rect x="827" y="669" width="1" height="1" fill="#222"/>
<rect x="829" y="669" width="1" height="1" fill="#222"/>
<rect x="832" y="669" width="1" height="1" fill="#222"/>
<rect x="834" y="669" width="1" height="1" fill="#222"/>
<rect x="836" y="669" width="1" height="1" fill="#222"/>
<rect x="839" y="669" width="1" height="1" fill="#222"/>
<rect x="841" y="669" width="1" height="1" fill="#222"/>
<rect x="843" y="669" width="1" height="1" fill="#222"/>
<rect x="846" y="669" width="1" height="1" fill="#222"/>
<rect x="848" y="669" width="1" height="1" fill="#222"/>
<rect x="850" y="669" width="1" height="1" fill="#222"/>
<rect x="853" y="669" width="1" height="1" fill="#222"/>
<rect x="855" y="669" width="1" height="1" fill="#222"/>
<rect x="857" y="669" width="1" height="1" fill="#222"/>
<line x1="860.5" y1="22" x2="860.5" y2="668" stroke="#1f1f1f" stroke-width="1" stroke-dasharray="1 2"/>
<rect x="860" y="669" width="1" height="3" fill="#1f1f1f"/>
<rect x="862" y="669" width="1" height="1" fill="#222"/>
<rect x="864" y="669" width="1" height="1" fill="#222"/>
<rect x="867" y="669" width="1" height="1" fill="#222"/>
<rect x="869" y="669" width="1" height="1" fill="#222"/>
<rect x="871" y="669" width="1" height="1" fill="#222"/>
<rect x="874" y="669" width="1" height="1" fill="#222"/>
<rect x="876" y="669" width="1" height="1" fill="#222"/>
<rect x="878" y="669" width="1" height="1" fill="#222"/>
<rect x="881" y="669" width="1" height="1" fill="#222"/>
<rect x="883" y="669" width="1" height="1" fill="#222"/>
<rect x="885" y="669" width="1" height="1" fill="#222"/>
<rect x="888" y="669" width="1" height="1" fill="#222"/>
<rect x="890" y="669" width="1" height="1" fill="#222"/>
<rect x="892" y="669" width="1" height="1" fill="#222"/>
<rect x="895" y="669" width="1" height="1" fill="#222"/>
<rect x="897" y="669" width="1" height="1" fill="#222"/>
<rect x="899" y="669" width="1" height="1" fill="#222"/>
<rect x="902" y="669" width="1" height="1" fill="#222"/>
<rect x="904" y="669" width="1" height="1" fill="#222"/>
<rect x="906" y="669" width="1" height="1" fill="#222"/>
<rect x="909" y="669" width="1" height="1" fill="#222"/>
<rect x="911" y="669" width="1" height="1" fill="#222"/>
<rect x="913" y="669" width="1" height="1" fill="#222"/>
<rect x="916" y="669" width="1" height="1" fill="#222"/>
<rect x="918" y="669" width="1" height="1" fill="#222"/>
<rect x="920" y="669" width="1" height="1" fill="#222"/>
<rect x="923" y="669" width="1" height="1" fill="#222"/>
<rect x="925" y="669" width="1" height="1" fill="#222"/>
<rect x="927" y="669" width="1" height="1" fill="#222"/>
<rect x="930" y="21" width="1" height="648" fill="#1f1f1f"/>
<rect x="930" y="669" width="1" height="3" fill="#1f1f1f"/>
<rect x="932" y="669" width="1" height="1" fill="#222"/>
<rect x="934" y="669" width="1" height="1" fill="#222"/>
<rect x="937" y="669" width="1" height="1" fill="#222"/>
<rect x="939" y="669" width="1" height="1" fill="#222"/>
<rect x="941" y="669" width="1" height="1" fill="#222"/>
<rect x="944" y="669" width="1" height="1" fill="#222"/>
<rect x="946" y="669" width="1" height="1" fill="#222"/>
<rect x="948" y="669" width="1" height="1" fill="#222"/>
<rect x="951" y="669" width="1" height="1" fill="#222"/>
<rect x="953" y="669" width="1" height="1" fill="#222"/>
<rect x="955" y="669" width="1" height="1" fill="#222"/>
<rect x="958" y="669" width="1" height="1" fill="#222"/>
<rect x="960" y="669" width="1" height="1" fill="#222"/>
<rect x="962" y="669" width="1" height="1" fill="#222"/>
<rect x="965" y="669" width="1" height="1" fill="#222"/>
<rect x="967" y="669" width="1" height="1" fill="#222"/>
<rect x="969" y="669" width="1" height="1" fill="#222"/>
<rect x="972" y="669" width="1" height="1" fill="#222"/>
<rect x="974" y="669" width="1" height="1" fill="#222"/>
<rect x="976" y="669" width="1" height="1" fill="#222"/>
<rect x="979" y="669" width="1" height="1" fill="#222"/>
<rect x="981" y="669" width="1" height="1" fill="#222"/>
<rect x="983" y="669" width="1" height="1" fill="#222"/>
<rect x="986" y="669" width="1" height="1" fill="#222"/>
<rect x="988" y="669" width="1" height="1" fill="#222"/>
<rect x="990" y="669" width="1" height="1" fill="#222"/>
<rect x="993" y="669" width="1" height="1" fill="#222"/>
<rect x="995" y="669" width="1" height="1" fill="#222"/>
<rect x="997" y="669" width="1" height="1" fill="#222"/>
<line x1="1000.5" y1="22" x2="1000.5" y2="668" stroke="#1f1f1f" stroke-width="1" stroke-dasharray="1 2"/>
<rect x="1000" y="669" width="1" height="3" fill="#1f1f1f"/>
<rect x="1002" y="669" width="1" height="1" fill="#222"/>
<rect x="1004" y="669" width="1" height="1" fill="#222"/>
<rect x="1007" y="669" width="1" height="1" fill="#222"/>
<rect x="1009" y="669" width="1" height="1" fill="#222"/>
<rect x="1011" y="669" width="1" height="1" fill="#222"/>
<rect x="1014" y="669" width="1" height="1" fill="#222"/>
<rect x="1016" y="669" width="1" height="1" fill="#222"/>
<rect x="1018" y="669" width="1" height="1" fill="#222"/>
<rect x="1021" y="669" width="1" height="1" fill="#222"/>
<rect x="1023" y="669" width="1" height="1" fill="#222"/>
<rect x="1025" y="669" width="1" height="1" fill="#222"/>
<rect x="1028" y="669" width="1" height="1" fill="#222"/>
<rect x="1030" y="669" width="1" height="1" fill="#222"/>
<rect x="1032" y="669" width="1" height="1" fill="#222"/>
<rect x="1035" y="669" width="1" height="1" fill="#222"/>
<rect x="1037" y="669" width="1" height="1" fill="#222"/>
<rect x="1039" y="669" width="1" height="1" fill="#222"/>
<rect x="1042" y="669" width="1" height="1" fill="#222"/>
<rect x="1044" y="669" width="1" height="1" fill="#222"/>
<rect x="1046" y="669" width="1" height="1" fill="#222"/>
<rect x="1049" y="669" width="1" height="1" fill="#222"/>
<rect x="1051" y="669" width="1" height="1" fill="#222"/>
<rect x="1053" y="669" width="1" height="1" fill="#222"/>
<rect x="1056" y="669" width="1" height="1" fill="#222"/>
<rect x="1058" y="669" width="1" height="1" fill="#222"/>
<rect x="1060" y="669" width="1" height="1" fill="#222"/>
<rect x="1063" y="669" width="1" height="1" fill="#222"/>
<rect x="1065" y="669" width="1" height="1" fill="#222"/>
<rect x="1067" y="669" width="1" height="1" fill="#222"/>
<rect x="1070" y="21" width="1" height="648" fill="#1f1f1f"/>
<rect x="1070" y="669" width="1" height="3" fill="#1f1f1f"/>
<polygon points="91.3,668 91.3,474.2 96.1,500.3 98.5,522.4 99.6,507.3 100.8,500.3 103.1,498.6 105.4,489.9 107.2,477.0 107.5,471.3 109.5,476.5 112.4,461.4 113.6,471.3 115.9,480.6 117.7,486.4 119.4,496.9 121.7,513.1 124.0,508.5 126.4,493.4 127.5,500.3 131.6,528.5 133.5,508.7 135.5,515.0 138.2,521.0 141.0,496.4 143.9,490.7 145.8,489.8 147.6,504.0 153.3,486.0 159.0,500.2 161.8,482.2 163.7,496.4 165.6,466.0 168.4,449.1 169.9,419.8 170.7,411.3 172.2,420.8 174.0,432.0 175.6,437.8 178.2,431.2 180.7,437.8 182.3,427.5 184.7,430.8 189.0,427.5 194.2,447.8 197.0,423.3 201.1,412.4 203.6,438.4 205.5,433.7 208.3,442.2 210.6,429.9 213.0,430.8 215.8,421.4 218.7,438.4 220.6,451.6 222.5,478.0 224.3,453.5 226.2,462.9 229.0,473.3 231.9,502.5 234.7,497.8 236.7,493.5 238.5,487.4 240.2,497.0 243.1,500.5 245.5,497.0 247.6,482.4 250.1,487.7 252.4,481.9 254.5,467.3 256.5,470.2 258.3,473.7 260.6,488.8 264.1,501.6 266.4,497.6 268.7,505.1 272.2,488.8 275.1,472.6 276.3,473.1 278.0,474.9 280.3,482.4 282.7,477.2 285.6,480.1 287.9,476.6 289.4,467.9 292.0,474.9 294.3,474.3 296.0,470.5 297.8,476.0 299.5,485.3 301.3,477.2 303.0,460.3 305.2,464.2 307.9,468.6 310.5,480.8 313.1,480.0 314.8,464.2 316.6,439.8 317.8,432.0 320.9,424.1 327.0,411.9 329.7,397.0 332.3,390.1 334.4,378.4 336.6,382.2 338.4,405.8 341.9,402.3 345.7,394.4 348.0,391.8 350.3,396.2 352.4,386.6 356.7,397.9 360.2,401.4 362.8,415.4 366.3,427.6 369.8,429.7 370.8,431.0 373.1,438.0 376.4,444.4 380.1,439.2 383.4,433.4 385.3,447.3 387.7,444.4 390.0,445.6 392.6,440.3 394.3,446.2 397.0,442.1 399.7,435.1 401.6,439.2 404.5,434.5 406.6,435.1 408.6,447.9 411.5,450.2 413.3,435.7 416.2,427.6 418.5,423.5 420.2,423.5 422.6,418.3 424.9,416.5 429.0,409.0 432.4,404.3 435.9,411.9 439.4,411.3 441.7,419.4 443.5,430.5 447.0,439.2 449.6,447.9 451.3,461.8 452.5,472.3 453.9,493.2 455.3,504.5 457.4,497.5 461.8,496.7 464.4,519.3 467.5,510.2 471.4,530.6 474.0,519.3 476.6,517.6 482.7,506.2 485.3,494.1 490.5,491.1 492.3,497.6 495.8,503.6 497.5,498.4 499.6,508.0 502.4,499.3 505.9,508.9 508.8,510.2 511.4,505.4 515.8,507.1 518.4,521.0 520.7,520.0 523.5,512.4 525.4,522.8 529.2,506.7 532.4,502.6 534.8,505.2 537.3,504.8 539.6,512.4 544.3,541.7 546.2,521.8 548.6,501.4 550.9,502.6 553.8,504.8 555.6,490.6 558.5,484.0 560.7,483.1 563.8,477.4 566.0,471.7 567.5,466.1 569.8,468.9 572.1,469.8 574.5,460.4 576.4,465.1 579.6,455.3 581.2,468.0 583.0,493.5 585.0,512.4 586.5,575.7 587.8,561.5 590.2,537.0 591.4,531.9 593.5,534.2 595.6,530.2 598.4,539.4 600.5,517.1 601.8,506.7 603.1,499.7 605.7,491.0 607.4,485.7 609.2,472.7 611.8,466.9 614.4,478.4 617.0,464.8 619.3,447.4 621.4,461.4 623.5,443.1 625.7,454.4 628.0,467.5 630.4,476.2 632.7,471.0 635.0,469.2 637.4,463.5 640.5,474.4 642.3,469.7 644.9,481.4 649.3,489.2 651.3,477.1 653.6,484.0 657.1,503.2 658.8,503.2 661.5,494.5 663.6,483.1 665.8,485.8 668.5,480.1 672.8,482.7 677.2,486.2 681.6,474.9 683.3,474.0 684.5,481.0 686.3,466.7 687.6,472.3 689.4,479.2 691.5,475.7 693.2,477.5 695.5,467.0 698.1,461.5 699.8,468.8 703.7,469.7 705.4,472.3 707.7,487.1 709.4,482.7 712.0,470.5 713.8,481.0 715.9,482.7 718.1,482.7 720.4,489.7 722.5,512.3 723.9,519.7 726.3,525.4 727.4,465.3 728.6,444.4 731.2,444.4 733.3,433.6 735.6,453.1 738.2,454.8 741.7,442.6 745.2,435.5 747.3,447.3 749.9,455.1 752.0,449.1 754.4,468.2 756.5,500.9 758.3,490.4 761.5,457.7 763.6,477.4 766.2,494.4 768.8,499.6 770.9,498.3 773.5,508.8 775.3,537.6 777.2,553.3 779.3,576.8 780.6,594.6 782.4,580.8 784.5,555.9 787.1,548.0 789.7,554.6 792.4,555.9 794.5,571.6 796.2,571.3 798.4,575.4 801.1,572.4 803.4,572.4 805.4,593.4 808.0,597.3 810.3,610.2 812.1,605.6 814.1,614.8 815.6,620.9 817.6,613.3 819.4,636.2 821.7,632.4 824.0,630.8 826.3,624.7 829.4,624.0 832.4,610.2 835.9,592.7 839.3,591.1 843.5,585.8 845.4,590.1 847.7,579.7 850.3,564.4 852.3,557.1 854.5,567.5 856.8,564.4 859.1,564.4 861.4,582.0 864.5,563.2 866.5,585.0 869.5,588.9 871.8,598.7 873.6,611.2 875.4,600.5 878.0,612.1 880.7,609.4 882.5,617.5 885.7,631.8 887.9,627.3 891.5,627.3 892.9,623.7 894.2,616.6 895.9,636.2 896.8,644.3 899.0,644.3 901.3,618.3 902.6,602.2 903.6,596.0 904.9,607.6 906.7,625.5 908.5,644.3 910.8,662.2 912.6,648.8 914.7,638.0 917.9,627.3 920.1,605.8 921.9,601.4 923.7,601.9 926.4,593.3 929.0,584.4 931.7,571.8 932.6,562.9 933.1,560.0 934.8,539.5 936.6,516.3 938.5,511.6 940.8,507.4 941.7,493.0 943.1,465.1 944.8,446.5 946.4,432.6 948.3,422.1 951.7,420.9 955.2,417.4 957.6,409.3 959.2,401.2 962.5,383.3 964.7,394.6 966.8,417.6 969.5,392.4 971.6,406.6 974.5,404.5 977.3,381.5 978.8,366.2 979.9,351.0 982.1,336.8 983.9,329.1 986.0,331.3 988.2,320.4 989.8,302.9 990.8,287.7 992.6,280.0 994.8,296.4 997.0,276.7 999.1,278.5 1001.3,276.7 1069.0,276.5 1069.0,668" fill="url(#fillg)" shape-rendering="auto"/>
<polyline points="91.3,474.8 95.0,483.0 98.3,497.5 102.9,498.8 108.2,492.9 114.1,487.9 118.0,487.6 122.6,490.9 129.2,492.9 139.7,498.2 142.4,497.5 152.9,496.8 163.4,496.2 174.0,488.3 189.7,479.7 206.8,472.5 216.0,469.2 226.6,469.2 239.7,470.8 244.9,472.3 268.7,474.3 317.5,474.4 334.9,469.1 352.4,464.2 369.8,460.2 379.0,459.3 397.6,458.4 413.8,457.2 430.1,455.5 445.0,454.1 457.4,454.9 474.8,458.0 492.3,460.1 509.7,461.8 533.9,465.1 552.8,467.0 571.7,467.4 595.0,468.9 600.5,470.4 670.0,470.4 745.0,471.4 758.3,471.6 779.3,472.6 790.0,473.8 812.5,477.0 840.0,483.0 865.0,485.8 895.0,490.5 926.2,496.2 941.2,496.5 950.0,496.2 977.5,492.0 1000.0,488.0 1005.0,486.0 1069.0,486.0" fill="none" stroke="#e6e600" stroke-width="1" shape-rendering="crispEdges"/>
<polyline points="91.3,474.2 96.1,500.3 98.5,522.4 99.6,507.3 100.8,500.3 103.1,498.6 105.4,489.9 107.2,477.0 107.5,471.3 109.5,476.5 112.4,461.4 113.6,471.3 115.9,480.6 117.7,486.4 119.4,496.9 121.7,513.1 124.0,508.5 126.4,493.4 127.5,500.3 131.6,528.5 133.5,508.7 135.5,515.0 138.2,521.0 141.0,496.4 143.9,490.7 145.8,489.8 147.6,504.0 153.3,486.0 159.0,500.2 161.8,482.2 163.7,496.4 165.6,466.0 168.4,449.1 169.9,419.8 170.7,411.3 172.2,420.8 174.0,432.0 175.6,437.8 178.2,431.2 180.7,437.8 182.3,427.5 184.7,430.8 189.0,427.5 194.2,447.8 197.0,423.3 201.1,412.4 203.6,438.4 205.5,433.7 208.3,442.2 210.6,429.9 213.0,430.8 215.8,421.4 218.7,438.4 220.6,451.6 222.5,478.0 224.3,453.5 226.2,462.9 229.0,473.3 231.9,502.5 234.7,497.8 236.7,493.5 238.5,487.4 240.2,497.0 243.1,500.5 245.5,497.0 247.6,482.4 250.1,487.7 252.4,481.9 254.5,467.3 256.5,470.2 258.3,473.7 260.6,488.8 264.1,501.6 266.4,497.6 268.7,505.1 272.2,488.8 275.1,472.6 276.3,473.1 278.0,474.9 280.3,482.4 282.7,477.2 285.6,480.1 287.9,476.6 289.4,467.9 292.0,474.9 294.3,474.3 296.0,470.5 297.8,476.0 299.5,485.3 301.3,477.2 303.0,460.3 305.2,464.2 307.9,468.6 310.5,480.8 313.1,480.0 314.8,464.2 316.6,439.8 317.8,432.0 320.9,424.1 327.0,411.9 329.7,397.0 332.3,390.1 334.4,378.4 336.6,382.2 338.4,405.8 341.9,402.3 345.7,394.4 348.0,391.8 350.3,396.2 352.4,386.6 356.7,397.9 360.2,401.4 362.8,415.4 366.3,427.6 369.8,429.7 370.8,431.0 373.1,438.0 376.4,444.4 380.1,439.2 383.4,433.4 385.3,447.3 387.7,444.4 390.0,445.6 392.6,440.3 394.3,446.2 397.0,442.1 399.7,435.1 401.6,439.2 404.5,434.5 406.6,435.1 408.6,447.9 411.5,450.2 413.3,435.7 416.2,427.6 418.5,423.5 420.2,423.5 422.6,418.3 424.9,416.5 429.0,409.0 432.4,404.3 435.9,411.9 439.4,411.3 441.7,419.4 443.5,430.5 447.0,439.2 449.6,447.9 451.3,461.8 452.5,472.3 453.9,493.2 455.3,504.5 457.4,497.5 461.8,496.7 464.4,519.3 467.5,510.2 471.4,530.6 474.0,519.3 476.6,517.6 482.7,506.2 485.3,494.1 490.5,491.1 492.3,497.6 495.8,503.6 497.5,498.4 499.6,508.0 502.4,499.3 505.9,508.9 508.8,510.2 511.4,505.4 515.8,507.1 518.4,521.0 520.7,520.0 523.5,512.4 525.4,522.8 529.2,506.7 532.4,502.6 534.8,505.2 537.3,504.8 539.6,512.4 544.3,541.7 546.2,521.8 548.6,501.4 550.9,502.6 553.8,504.8 555.6,490.6 558.5,484.0 560.7,483.1 563.8,477.4 566.0,471.7 567.5,466.1 569.8,468.9 572.1,469.8 574.5,460.4 576.4,465.1 579.6,455.3 581.2,468.0 583.0,493.5 585.0,512.4 586.5,575.7 587.8,561.5 590.2,537.0 591.4,531.9 593.5,534.2 595.6,530.2 598.4,539.4 600.5,517.1 601.8,506.7 603.1,499.7 605.7,491.0 607.4,485.7 609.2,472.7 611.8,466.9 614.4,478.4 617.0,464.8 619.3,447.4 621.4,461.4 623.5,443.1 625.7,454.4 628.0,467.5 630.4,476.2 632.7,471.0 635.0,469.2 637.4,463.5 640.5,474.4 642.3,469.7 644.9,481.4 649.3,489.2 651.3,477.1 653.6,484.0 657.1,503.2 658.8,503.2 661.5,494.5 663.6,483.1 665.8,485.8 668.5,480.1 672.8,482.7 677.2,486.2 681.6,474.9 683.3,474.0 684.5,481.0 686.3,466.7 687.6,472.3 689.4,479.2 691.5,475.7 693.2,477.5 695.5,467.0 698.1,461.5 699.8,468.8 703.7,469.7 705.4,472.3 707.7,487.1 709.4,482.7 712.0,470.5 713.8,481.0 715.9,482.7 718.1,482.7 720.4,489.7 722.5,512.3 723.9,519.7 726.3,525.4 727.4,465.3 728.6,444.4 731.2,444.4 733.3,433.6 735.6,453.1 738.2,454.8 741.7,442.6 745.2,435.5 747.3,447.3 749.9,455.1 752.0,449.1 754.4,468.2 756.5,500.9 758.3,490.4 761.5,457.7 763.6,477.4 766.2,494.4 768.8,499.6 770.9,498.3 773.5,508.8 775.3,537.6 777.2,553.3 779.3,576.8 780.6,594.6 782.4,580.8 784.5,555.9 787.1,548.0 789.7,554.6 792.4,555.9 794.5,571.6 796.2,571.3 798.4,575.4 801.1,572.4 803.4,572.4 805.4,593.4 808.0,597.3 810.3,610.2 812.1,605.6 814.1,614.8 815.6,620.9 817.6,613.3 819.4,636.2 821.7,632.4 824.0,630.8 826.3,624.7 829.4,624.0 832.4,610.2 835.9,592.7 839.3,591.1 843.5,585.8 845.4,590.1 847.7,579.7 850.3,564.4 852.3,557.1 854.5,567.5 856.8,564.4 859.1,564.4 861.4,582.0 864.5,563.2 866.5,585.0 869.5,588.9 871.8,598.7 873.6,611.2 875.4,600.5 878.0,612.1 880.7,609.4 882.5,617.5 885.7,631.8 887.9,627.3 891.5,627.3 892.9,623.7 894.2,616.6 895.9,636.2 896.8,644.3 899.0,644.3 901.3,618.3 902.6,602.2 903.6,596.0 904.9,607.6 906.7,625.5 908.5,644.3 910.8,662.2 912.6,648.8 914.7,638.0 917.9,627.3 920.1,605.8 921.9,601.4 923.7,601.9 926.4,593.3 929.0,584.4 931.7,571.8 932.6,562.9 933.1,560.0 934.8,539.5 936.6,516.3 938.5,511.6 940.8,507.4 941.7,493.0 943.1,465.1 944.8,446.5 946.4,432.6 948.3,422.1 951.7,420.9 955.2,417.4 957.6,409.3 959.2,401.2 962.5,383.3 964.7,394.6 966.8,417.6 969.5,392.4 971.6,406.6 974.5,404.5 977.3,381.5 978.8,366.2 979.9,351.0 982.1,336.8 983.9,329.1 986.0,331.3 988.2,320.4 989.8,302.9 990.8,287.7 992.6,280.0 994.8,296.4 997.0,276.7 999.1,278.5 1001.3,276.7 1069.0,276.5" fill="none" stroke="#559cff" stroke-width="1" shape-rendering="crispEdges"/>
<circle cx="723.9" cy="470.9" r="3.8" fill="#ffff00" shape-rendering="auto"/>
<circle cx="723.9" cy="519.7" r="3.8" fill="#559cff" shape-rendering="auto"/>
<circle cx="1069" cy="276.2" r="3.3" fill="#ff3050" shape-rendering="auto"/>
<text class="l" x="87.5" y="25" fill="#ff3049" text-anchor="end">5005.02</text>
<text class="l" x="87.5" y="46" fill="#ff3049" text-anchor="end">5003.05</text>
<text class="l" x="87.5" y="68" fill="#ff3049" text-anchor="end">5001.08</text>
<text class="l" x="87.5" y="89" fill="#ff3049" text-anchor="end">4999.12</text>
<text class="l" x="87.5" y="111" fill="#ff3049" text-anchor="end">4997.15</text>
<text class="l" x="87.5" y="132" fill="#ff3049" text-anchor="end">4995.18</text>
<text class="l" x="87.5" y="154" fill="#ff3049" text-anchor="end">4993.21</text>
<text class="l" x="87.5" y="175" fill="#ff3049" text-anchor="end">4991.25</text>
<text class="l" x="87.5" y="197" fill="#ff3049" text-anchor="end">4989.28</text>
<text class="l" x="87.5" y="219" fill="#ff3049" text-anchor="end">4987.31</text>
<text class="l" x="87.5" y="240" fill="#ff3049" text-anchor="end">4985.35</text>
<text class="l" x="87.5" y="262" fill="#ff3049" text-anchor="end">4983.38</text>
<text class="l" x="87.5" y="283" fill="#ff3049" text-anchor="end">4981.41</text>
<text class="l" x="87.5" y="305" fill="#ff3049" text-anchor="end">4979.44</text>
<text class="l" x="87.5" y="326" fill="#ff3049" text-anchor="end">4977.48</text>
<text class="l" x="87.5" y="348" fill="#cfcfcf" text-anchor="end">4975.51</text>
<text class="l" x="87.5" y="370" fill="#36d466" text-anchor="end">4973.54</text>
<text class="l" x="87.5" y="391" fill="#36d466" text-anchor="end">4971.57</text>
<text class="l" x="87.5" y="413" fill="#36d466" text-anchor="end">4969.61</text>
<text class="l" x="87.5" y="434" fill="#36d466" text-anchor="end">4967.64</text>
<text class="l" x="87.5" y="456" fill="#36d466" text-anchor="end">4965.67</text>
<text class="l" x="87.5" y="477" fill="#36d466" text-anchor="end">4963.71</text>
<text class="l" x="87.5" y="499" fill="#36d466" text-anchor="end">4961.74</text>
<text class="l" x="87.5" y="521" fill="#36d466" text-anchor="end">4959.77</text>
<text class="l" x="87.5" y="542" fill="#36d466" text-anchor="end">4957.80</text>
<text class="l" x="87.5" y="564" fill="#36d466" text-anchor="end">4955.84</text>
<text class="l" x="87.5" y="585" fill="#36d466" text-anchor="end">4953.87</text>
<text class="l" x="87.5" y="607" fill="#36d466" text-anchor="end">4951.90</text>
<text class="l" x="87.5" y="628" fill="#36d466" text-anchor="end">4949.93</text>
<text class="l" x="87.5" y="650" fill="#36d466" text-anchor="end">4947.97</text>
<text class="l" x="87.5" y="672" fill="#36d466" text-anchor="end">4946.00</text>
<text class="l" x="1073.5" y="25" fill="#ff3049">0.59%</text>
<text class="l" x="1073.5" y="46" fill="#ff3049">0.55%</text>
<text class="l" x="1073.5" y="68" fill="#ff3049">0.51%</text>
<text class="l" x="1073.5" y="89" fill="#ff3049">0.47%</text>
<text class="l" x="1073.5" y="111" fill="#ff3049">0.43%</text>
<text class="l" x="1073.5" y="154" fill="#ff3049">0.36%</text>
<text class="l" x="1073.5" y="175" fill="#ff3049">0.32%</text>
<text class="l" x="1073.5" y="197" fill="#ff3049">0.28%</text>
<text class="l" x="1073.5" y="219" fill="#ff3049">0.24%</text>
<text class="l" x="1073.5" y="240" fill="#ff3049">0.20%</text>
<text class="l" x="1073.5" y="262" fill="#ff3049">0.16%</text>
<text class="l" x="1073.5" y="283" fill="#ff3049">0.12%</text>
<text class="l" x="1073.5" y="305" fill="#ff3049">0.08%</text>
<text class="l" x="1073.5" y="326" fill="#ff3049">0.04%</text>
<text class="l" x="1073.5" y="348" fill="#cfcfcf">0.00%</text>
<text class="l" x="1073.5" y="370" fill="#36d466">0.04%</text>
<text class="l" x="1073.5" y="391" fill="#36d466">0.08%</text>
<text class="l" x="1073.5" y="413" fill="#36d466">0.12%</text>
<text class="l" x="1073.5" y="434" fill="#36d466">0.16%</text>
<text class="l" x="1073.5" y="456" fill="#36d466">0.20%</text>
<text class="l" x="1073.5" y="477" fill="#36d466">0.24%</text>
<text class="l" x="1073.5" y="499" fill="#36d466">0.28%</text>
<text class="l" x="1073.5" y="521" fill="#36d466">0.32%</text>
<text class="l" x="1073.5" y="542" fill="#36d466">0.36%</text>
<text class="l" x="1073.5" y="564" fill="#36d466">0.40%</text>
<text class="l" x="1073.5" y="585" fill="#36d466">0.43%</text>
<text class="l" x="1073.5" y="607" fill="#36d466">0.47%</text>
<text class="l" x="1073.5" y="628" fill="#36d466">0.51%</text>
<text class="l" x="1073.5" y="650" fill="#36d466">0.55%</text>
<text class="l" x="1073.5" y="672" fill="#36d466">0.59%</text>
<text class="t" x="89.7" y="684" fill="#c4c4c4" text-anchor="middle">22:30</text>
<text class="t" x="159.7" y="684" fill="#c4c4c4" text-anchor="middle">23:00</text>
<text class="t" x="229.7" y="684" fill="#c4c4c4" text-anchor="middle">23:30</text>
<text class="t" x="299.7" y="684" fill="#c4c4c4" text-anchor="middle">00:00</text>
<text class="t" x="369.7" y="684" fill="#c4c4c4" text-anchor="middle">00:30</text>
<text class="t" x="439.7" y="684" fill="#c4c4c4" text-anchor="middle">01:00</text>
<text class="t" x="509.7" y="684" fill="#c4c4c4" text-anchor="middle">01:30</text>
<text class="t" x="579.7" y="684" fill="#c4c4c4" text-anchor="middle">02:00</text>
<text class="t" x="649.7" y="684" fill="#c4c4c4" text-anchor="middle">02:30</text>
<text class="t" x="719.7" y="684" fill="#c4c4c4" text-anchor="middle">03:00</text>
<text class="t" x="789.7" y="684" fill="#c4c4c4" text-anchor="middle">03:30</text>
<text class="t" x="859.7" y="684" fill="#c4c4c4" text-anchor="middle">04:00</text>
<text class="t" x="929.7" y="684" fill="#c4c4c4" text-anchor="middle">04:30</text>
<text class="t" x="999.7" y="684" fill="#c4c4c4" text-anchor="middle">05:00</text>
<text class="t" x="1069.7" y="684" fill="#c4c4c4" text-anchor="middle">05:30</text>
<rect x="1071.5" y="120.5" width="67" height="17" fill="#000" stroke="#2c2c2c" stroke-width="1"/>
<text class="l" x="1072" y="133" fill="#f39a28">4995.99</text>
<rect x="1138" y="140" width="1" height="17" fill="#2a2a2a"/>
<rect x="722.5" y="669.5" width="73" height="16" fill="#000" stroke="#2c2c2c" stroke-width="1"/>
<text class="l" x="724.5" y="681" fill="#f39a28" style="letter-spacing:0.45px">02/22-03:01</text>
<text class="c" x="91" y="15" fill="#f0f0f0">标普500 SP500</text>
<text class="c" x="179.5" y="15" fill="#4a8ff0">分时</text>
<text class="c" x="207" y="15" fill="#ecec00">均线</text>
<text class="l" x="240" y="15" fill="#f0f000" style="letter-spacing:0">4962.62</text>
<rect x="1104" y="0" width="16" height="16" fill="#000"/>
<rect x="1105.5" y="1.5" width="13" height="13" fill="none" stroke="#c4c4c4" stroke-width="1"/>
<rect x="1107.5" y="3.5" width="3" height="9" fill="none" stroke="#c4c4c4" stroke-width="1"/>
<line x1="1109" y1="7.5" x2="1114" y2="7.5" stroke="#c4c4c4" stroke-width="1"/>
<polygon points="1113,5 1116.2,7.5 1113,10" fill="#c4c4c4" shape-rendering="auto"/>
</svg>
</body></html>
